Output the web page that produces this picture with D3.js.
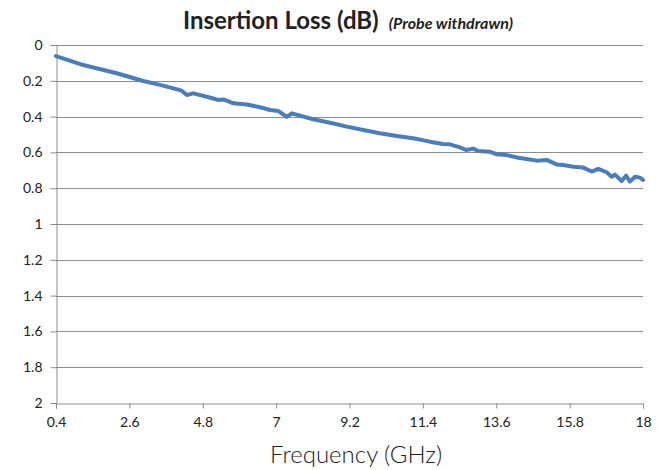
<!DOCTYPE html>
<html>
<head lang="en">
    <meta charset="UTF-8">
    <title>Insertion Loss</title>
    <script src="https://d3js.org/d3.v7.min.js"></script>
    <style>
        body { margin: 0; background: #fff; }
    </style>
</head>
<body>
<div id="chartContainer"></div>
<script type="text/javascript">

    // frequency (GHz) and insertion loss (dB)
    var freq = [0.4, 1.22, 2.22, 3.02, 3.52, 3.92, 4.17, 4.32, 4.52, 4.92, 5.27, 5.42, 5.72, 6.12, 6.52, 6.82,
        7.07, 7.32, 7.47, 8.11, 8.62, 9.12, 9.61, 10.11, 10.62, 11.11, 11.61, 12.01, 12.21, 12.51, 12.71, 12.91,
        13.06, 13.41, 13.61, 13.91, 14.21, 14.51, 14.81, 14.91, 15.11, 15.41, 15.61, 15.91, 16.21, 16.46, 16.66,
        16.91, 17.06, 17.16, 17.36, 17.49, 17.61, 17.76, 17.91, 18.0];
    var loss = [0.062, 0.112, 0.158, 0.201, 0.223, 0.242, 0.255, 0.279, 0.270, 0.289, 0.307, 0.304, 0.326, 0.332, 0.348, 0.363,
        0.369, 0.402, 0.382, 0.415, 0.434, 0.456, 0.475, 0.493, 0.508, 0.521, 0.540, 0.553, 0.555, 0.572, 0.587, 0.579,
        0.592, 0.596, 0.611, 0.615, 0.628, 0.637, 0.646, 0.645, 0.642, 0.667, 0.670, 0.680, 0.685, 0.707, 0.692,
        0.711, 0.736, 0.724, 0.760, 0.730, 0.763, 0.736, 0.741, 0.754];

    var xTicks = [0.4, 2.6, 4.8, 7, 9.2, 11.4, 13.6, 15.8, 18];
    var yTicks = [0, 0.2, 0.4, 0.6, 0.8, 1, 1.2, 1.4, 1.6, 1.8, 2];

    var data = freq.map(function (f, i) { return {f: f, v: loss[i]}; });

    var W = 669, H = 470;
    var svg = d3.select("#chartContainer").append("svg")
        .attr("width", W).attr("height", H);

    var x = d3.scaleLinear().domain([0.4, 18]).range([56, 643]);
    var y = d3.scaleLinear().domain([0, 2]).range([45, 403]);

    var gridColor = "#8c8c8c";
    var labelFont = "Lato, 'Open Sans', sans-serif";

    // horizontal gridlines
    svg.append("g").selectAll("line")
        .data(yTicks.slice(0, -1))
        .enter().append("line")
        .attr("x1", 56).attr("x2", 643)
        .attr("y1", function (d) { return Math.round(y(d)) + 0.5; })
        .attr("y2", function (d) { return Math.round(y(d)) + 0.5; })
        .style("stroke", gridColor)
        .style("stroke-width", 1);

    // y axis
    var yAxis = svg.append("g")
        .attr("transform", "translate(56.5,0)")
        .call(d3.axisLeft(y).tickValues(yTicks).tickSize(6).tickPadding(8)
            .tickFormat(function (d) { return d3.format("~g")(d); }));

    // x axis
    var xAxis = svg.append("g")
        .attr("transform", "translate(0," + (Math.round(y(2)) + 0.5) + ")")
        .call(d3.axisBottom(x).tickValues(xTicks).tickSize(5).tickPadding(9)
            .tickFormat(function (d) { return d3.format("~g")(d); }));

    [yAxis, xAxis].forEach(function (a) {
        a.selectAll("path, line").style("stroke", gridColor);
        a.selectAll("text")
            .style("font-family", labelFont)
            .style("font-size", "14px")
            .style("fill", "#222");
    });

    // the trace
    var line = d3.line()
        .x(function (d) { return x(d.f); })
        .y(function (d) { return y(d.v); });

    svg.append("path")
        .datum(data)
        .attr("d", line)
        .style("fill", "none")
        .style("stroke", "#4a7ebb")
        .style("stroke-width", 4)
        .style("stroke-linejoin", "round")
        .style("stroke-linecap", "round");

    // title
    var title = svg.append("text")
        .attr("x", 183)
        .attr("y", 29)
        .style("font-family", labelFont)
        .style("fill", "#222");
    title.append("tspan")
        .style("font-size", "24px")
        .style("font-weight", "bold")
        .text("Insertion Loss (dB)");
    title.append("tspan")
        .attr("dx", 10)
        .style("font-size", "16px")
        .style("font-weight", "bold")
        .style("font-style", "italic")
        .text("(Probe withdrawn)");

    // x axis title
    svg.append("text")
        .attr("x", 356)
        .attr("y", 463)
        .attr("text-anchor", "middle")
        .style("font-family", labelFont)
        .style("font-size", "24px")
        .style("font-weight", 300)
        .style("fill", "#222")
        .text("Frequency (GHz)");

</script>
</body>
</html>
